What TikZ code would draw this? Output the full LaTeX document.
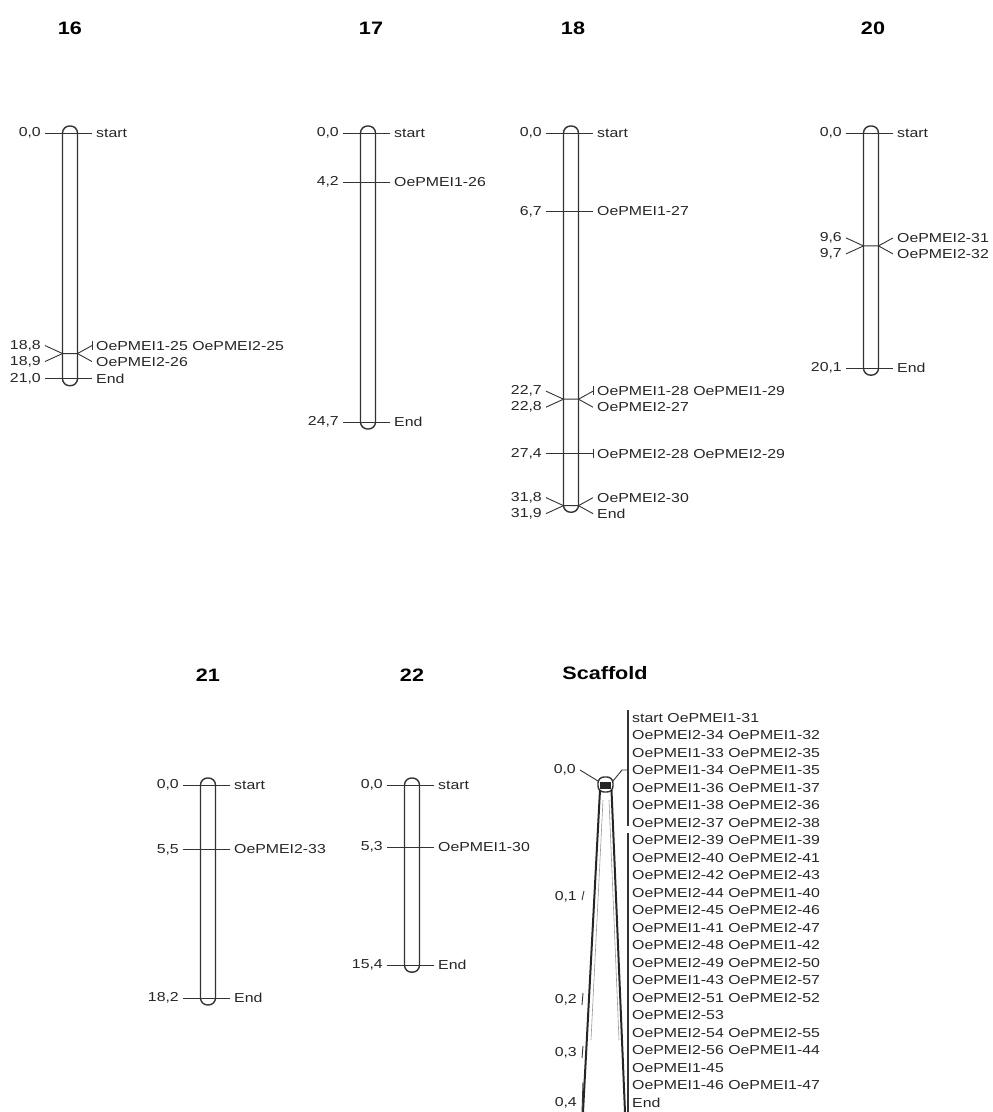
\documentclass[tikz,border=0pt]{standalone}
\usepackage{fontspec}
\newfontfamily\labfont[FakeStretch=1.22]{Liberation Sans}
\newfontfamily\ttlfont[FakeStretch=1.2]{Liberation Sans}
\usetikzlibrary{positioning,calc}
\newcommand{\cmk}{11.7}
\tikzset{
  bar/.style={draw=black!80,line width=1.4pt,rounded corners=7pt},
  tk/.style={draw=black!80,line width=0.9pt},
  lab/.style={font=\labfont\fontsize{13}{13}\selectfont,text=black!85,inner xsep=4pt,inner ysep=0pt},
  ttl/.style={font=\ttlfont\bfseries\fontsize{18}{18}\selectfont,text=black},
}

\begin{document}
\begin{tikzpicture}[x=1pt,y=-1pt]
  \useasboundingbox (0,0) rectangle (993,1112);
  % chromosome 16
  \begin{scope}[shift={(70,133)}]
    \node[ttl] (t16) at (0,-105) {16};
    \draw[bar] (-7.5,-7) rectangle (7.5,{21.0*\cmk+7});
    \node[lab,anchor=east] (c16a0) at (-25,0) {0,0};
    \node[lab,anchor=west] (c16b0) at (22,0) {start};
    \draw[tk] (c16a0) -- (c16b0);
    \coordinate (c16m1) at (0,{18.85*\cmk});
    \node[lab,anchor=east] (c16a1) at (-25,{18.85*\cmk-8}) {18,8};
    \node[lab,anchor=east] (c16a2) at (-25,{18.85*\cmk+8}) {18,9};
    \node[lab,anchor=west] (c16b1) at (22,{18.85*\cmk-8}) {OePMEI1-25 OePMEI2-25};
    \node[lab,anchor=west] (c16b2) at (22,{18.85*\cmk+8}) {OePMEI2-26};
    \draw[tk] (c16a1.east) -- ([xshift=-7.5pt]c16m1) -- ([xshift=7.5pt]c16m1) -- (c16b1.west);
    \draw[tk] (c16a2.east) -- ([xshift=-7.5pt]c16m1);
    \draw[tk] ([xshift=7.5pt]c16m1) -- (c16b2.west);
    \draw[tk] ([yshift=5pt]c16b1.west) -- ([yshift=-4pt]c16b1.west);
    \node[lab,anchor=east] (c16a3) at (-25,{21.0*\cmk}) {21,0};
    \node[lab,anchor=west] (c16b3) at (22,{21.0*\cmk}) {End};
    \draw[tk] (c16a3) -- (c16b3);
  \end{scope}
  % chromosome 17
  \begin{scope}[shift={(368,133)}]
    \node[ttl] (t17) at (3,-105) {17};
    \draw[bar] (-7.5,-7) rectangle (7.5,{24.7*\cmk+7});
    \node[lab,anchor=east] (c17a0) at (-25,0) {0,0};
    \node[lab,anchor=west] (c17b0) at (22,0) {start};
    \draw[tk] (c17a0) -- (c17b0);
    \node[lab,anchor=east] (c17a1) at (-25,{4.2*\cmk}) {4,2};
    \node[lab,anchor=west] (c17b1) at (22,{4.2*\cmk}) {OePMEI1-26};
    \draw[tk] (c17a1) -- (c17b1);
    \node[lab,anchor=east] (c17a2) at (-25,{24.7*\cmk}) {24,7};
    \node[lab,anchor=west] (c17b2) at (22,{24.7*\cmk}) {End};
    \draw[tk] (c17a2) -- (c17b2);
  \end{scope}
  % chromosome 18
  \begin{scope}[shift={(571,133)}]
    \node[ttl] (t18) at (2,-105) {18};
    \draw[bar] (-7.5,-7) rectangle (7.5,{31.9*\cmk+6});
    \node[lab,anchor=east] (c18a0) at (-25,0) {0,0};
    \node[lab,anchor=west] (c18b0) at (22,0) {start};
    \draw[tk] (c18a0) -- (c18b0);
    \node[lab,anchor=east] (c18a1) at (-25,{6.7*\cmk}) {6,7};
    \node[lab,anchor=west] (c18b1) at (22,{6.7*\cmk}) {OePMEI1-27};
    \draw[tk] (c18a1) -- (c18b1);
    \coordinate (c18m2) at (0,{22.75*\cmk});
    \node[lab,anchor=east] (c18a2) at (-25,{22.75*\cmk-8}) {22,7};
    \node[lab,anchor=east] (c18a3) at (-25,{22.75*\cmk+8}) {22,8};
    \node[lab,anchor=west] (c18b2) at (22,{22.75*\cmk-8}) {OePMEI1-28 OePMEI1-29};
    \node[lab,anchor=west] (c18b3) at (22,{22.75*\cmk+8}) {OePMEI2-27};
    \draw[tk] (c18a2.east) -- ([xshift=-7.5pt]c18m2) -- ([xshift=7.5pt]c18m2) -- (c18b2.west);
    \draw[tk] (c18a3.east) -- ([xshift=-7.5pt]c18m2);
    \draw[tk] ([xshift=7.5pt]c18m2) -- (c18b3.west);
    \draw[tk] ([yshift=5pt]c18b2.west) -- ([yshift=-4pt]c18b2.west);
    \node[lab,anchor=east] (c18a4) at (-25,{27.4*\cmk}) {27,4};
    \node[lab,anchor=west] (c18b4) at (22,{27.4*\cmk}) {OePMEI2-28 OePMEI2-29};
    \draw[tk] (c18a4) -- (c18b4);
    \draw[tk] ([yshift=5pt]c18b4.west) -- ([yshift=-4pt]c18b4.west);
    \coordinate (c18m5) at (0,{31.85*\cmk});
    \node[lab,anchor=east] (c18a5) at (-25,{31.85*\cmk-8}) {31,8};
    \node[lab,anchor=east] (c18a6) at (-25,{31.85*\cmk+8}) {31,9};
    \node[lab,anchor=west] (c18b5) at (22,{31.85*\cmk-8}) {OePMEI2-30};
    \node[lab,anchor=west] (c18b6) at (22,{31.85*\cmk+8}) {End};
    \draw[tk] (c18a5.east) -- ([xshift=-7.5pt]c18m5) -- ([xshift=7.5pt]c18m5) -- (c18b5.west);
    \draw[tk] (c18a6.east) -- ([xshift=-7.5pt]c18m5);
    \draw[tk] ([xshift=7.5pt]c18m5) -- (c18b6.west);
  \end{scope}
  % chromosome 20
  \begin{scope}[shift={(871,133)}]
    \node[ttl] (t20) at (2,-105) {20};
    \draw[bar] (-7.5,-7) rectangle (7.5,{20.1*\cmk+7});
    \node[lab,anchor=east] (c20a0) at (-25,0) {0,0};
    \node[lab,anchor=west] (c20b0) at (22,0) {start};
    \draw[tk] (c20a0) -- (c20b0);
    \coordinate (c20m1) at (0,{9.65*\cmk});
    \node[lab,anchor=east] (c20a1) at (-25,{9.65*\cmk-8}) {9,6};
    \node[lab,anchor=east] (c20a2) at (-25,{9.65*\cmk+8}) {9,7};
    \node[lab,anchor=west] (c20b1) at (22,{9.65*\cmk-8}) {OePMEI2-31};
    \node[lab,anchor=west] (c20b2) at (22,{9.65*\cmk+8}) {OePMEI2-32};
    \draw[tk] (c20a1.east) -- ([xshift=-7.5pt]c20m1) -- ([xshift=7.5pt]c20m1) -- (c20b1.west);
    \draw[tk] (c20a2.east) -- ([xshift=-7.5pt]c20m1);
    \draw[tk] ([xshift=7.5pt]c20m1) -- (c20b2.west);
    \node[lab,anchor=east] (c20a3) at (-25,{20.1*\cmk}) {20,1};
    \node[lab,anchor=west] (c20b3) at (22,{20.1*\cmk}) {End};
    \draw[tk] (c20a3) -- (c20b3);
  \end{scope}
  % chromosome 21
  \begin{scope}[shift={(208,785)}]
    \node[ttl] (t21) at (0,-110) {21};
    \draw[bar] (-7.5,-7) rectangle (7.5,{18.2*\cmk+7});
    \node[lab,anchor=east] (c21a0) at (-25,0) {0,0};
    \node[lab,anchor=west] (c21b0) at (22,0) {start};
    \draw[tk] (c21a0) -- (c21b0);
    \node[lab,anchor=east] (c21a1) at (-25,{5.5*\cmk}) {5,5};
    \node[lab,anchor=west] (c21b1) at (22,{5.5*\cmk}) {OePMEI2-33};
    \draw[tk] (c21a1) -- (c21b1);
    \node[lab,anchor=east] (c21a2) at (-25,{18.2*\cmk}) {18,2};
    \node[lab,anchor=west] (c21b2) at (22,{18.2*\cmk}) {End};
    \draw[tk] (c21a2) -- (c21b2);
  \end{scope}
  % chromosome 22
  \begin{scope}[shift={(412,785)}]
    \node[ttl] (t22) at (0,-110) {22};
    \draw[bar] (-7.5,-7) rectangle (7.5,{15.4*\cmk+7});
    \node[lab,anchor=east] (c22a0) at (-25,0) {0,0};
    \node[lab,anchor=west] (c22b0) at (22,0) {start};
    \draw[tk] (c22a0) -- (c22b0);
    \node[lab,anchor=east] (c22a1) at (-25,{5.3*\cmk}) {5,3};
    \node[lab,anchor=west] (c22b1) at (22,{5.3*\cmk}) {OePMEI1-30};
    \draw[tk] (c22a1) -- (c22b1);
    \node[lab,anchor=east] (c22a2) at (-25,{15.4*\cmk}) {15,4};
    \node[lab,anchor=west] (c22b2) at (22,{15.4*\cmk}) {End};
    \draw[tk] (c22a2) -- (c22b2);
  \end{scope}
  % scaffold
  \node[ttl] (tsc) at (605,673) {Scaffold};
  \draw[bar,rounded corners=6pt] (598,777) rectangle (613,792);
  \fill[black!85] (600,782) rectangle (611,789);
  \draw[black!85,line width=2pt] (600,790) -- (583,1112);
  \draw[black!85,line width=2pt] (611.5,790) -- (625,1112);
  \draw[black!40,line width=0.6pt] (603,800) -- (591,1040);
  \draw[black!40,line width=0.6pt] (609,800) -- (619,1040);
  \node[lab,anchor=east] (sl0) at (580,770) {0,0};
  \node[lab,anchor=east] (sl1) at (581,897) {0,1};
  \node[lab,anchor=east] (sl2) at (581,1000) {0,2};
  \node[lab,anchor=east] (sl3) at (581,1053) {0,3};
  \node[lab,anchor=east] (sl4) at (581,1103) {0,4};
  \draw[tk] (sl0.east) -- (598,781);
  \draw[tk] (sl1.east) ++(1,3) -- ++(2,-9);
  \draw[tk] (sl2.east) ++(1,5) -- ++(1,-12);
  \draw[tk] (sl3.east) ++(1,5) -- ++(1,-12);
  \draw[tk] (sl4.east) ++(1,9) -- ++(1,-30);
  \coordinate (sg1) at (628,770);
  \draw[tk] (613,781) -- (622,770) -- (sg1);
  \draw[black!80,line width=1.3pt] (628,710) -- (628,826);
  \draw[black!80,line width=1.3pt] (628,833) -- (628,1112);
  \foreach \n/\txt in {1/start OePMEI1-31, 2/OePMEI2-34 OePMEI1-32, 3/OePMEI1-33 OePMEI2-35,
      4/OePMEI1-34 OePMEI1-35, 5/OePMEI1-36 OePMEI1-37, 6/OePMEI1-38 OePMEI2-36,
      7/OePMEI2-37 OePMEI2-38, 8/OePMEI2-39 OePMEI1-39, 9/OePMEI2-40 OePMEI2-41,
      10/OePMEI2-42 OePMEI2-43, 11/OePMEI2-44 OePMEI1-40, 12/OePMEI2-45 OePMEI2-46,
      13/OePMEI1-41 OePMEI2-47, 14/OePMEI2-48 OePMEI1-42, 15/OePMEI2-49 OePMEI2-50,
      16/OePMEI1-43 OePMEI2-57, 17/OePMEI2-51 OePMEI2-52, 18/OePMEI2-53,
      19/OePMEI2-54 OePMEI2-55, 20/OePMEI2-56 OePMEI1-44, 21/OePMEI1-45,
      22/OePMEI1-46 OePMEI1-47, 23/End}
    \node[lab,anchor=west,inner xsep=0pt] (s\n) at (632,{718+17.5*(\n-1)}) {\txt};
\end{tikzpicture}
\end{document}
